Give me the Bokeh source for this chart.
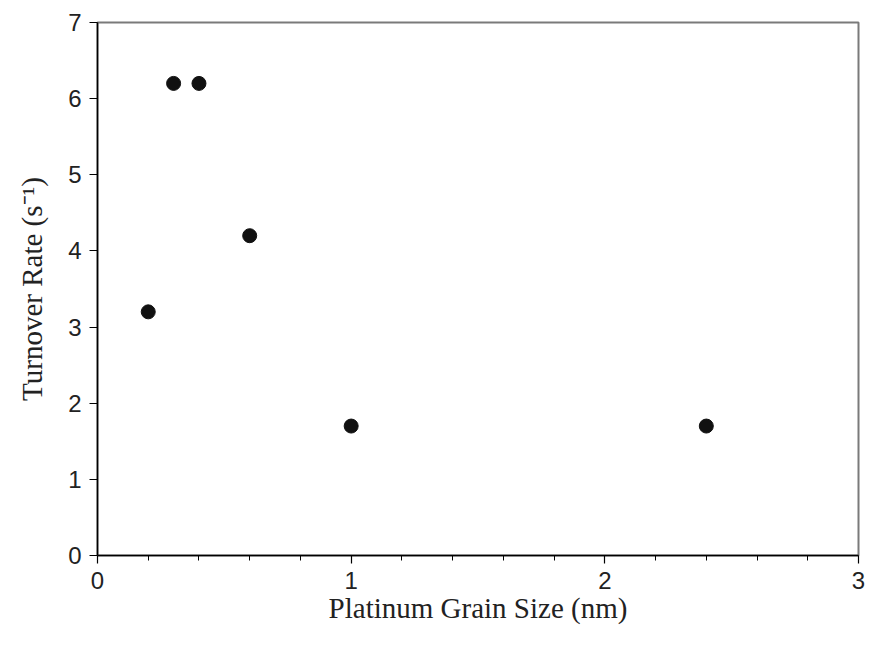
from bokeh.plotting import figure
from bokeh.models import Range1d, FixedTicker, ColumnDataSource
from bokeh.embed import file_html
from bokeh.resources import INLINE

# Turnover rate against platinum grain size
grain_size_nm = [0.2, 0.3, 0.4, 0.6, 1.0, 2.4]
turnover_rate = [3.2, 6.2, 6.2, 4.2, 1.7, 1.7]

x_ticks = [0, 1, 2, 3]
x_minor_ticks = [0.2, 0.4, 0.6, 0.8, 1.2, 1.4, 1.6, 1.8, 2.2, 2.4, 2.6, 2.8]
y_ticks = [0, 1, 2, 3, 4, 5, 6, 7]

src = ColumnDataSource(data=dict(x=grain_size_nm, y=turnover_rate))

p = figure(width=870, height=646, output_backend="svg", toolbar_location=None,
           x_range=Range1d(0, 3), y_range=Range1d(0, 7),
           min_border_left=97, min_border_right=12,
           min_border_top=22, min_border_bottom=91)

p.grid.visible = False
p.background_fill_color = "white"
p.border_fill_color = "white"
p.outline_line_color = "#7a7a7a"
p.outline_line_width = 2

p.scatter("x", "y", source=src, size=14, marker="circle",
          fill_color="#111111", line_color="#111111")

p.axis.axis_line_color = "black"
p.axis.axis_line_width = 1.5
p.axis.major_tick_line_color = "black"
p.axis.major_tick_line_width = 1.2
p.axis.major_tick_in = 0
p.axis.major_tick_out = 8
p.axis.major_label_text_font = "Liberation Sans"
p.axis.major_label_text_font_size = "24px"
p.axis.major_label_text_color = "#222222"
p.axis.axis_label_text_font = "Liberation Serif"
p.axis.axis_label_text_font_size = "29px"
p.axis.axis_label_text_font_style = "normal"
p.axis.axis_label_text_color = "#222222"

p.xaxis.ticker = FixedTicker(ticks=x_ticks, minor_ticks=x_minor_ticks)
p.xaxis.minor_tick_line_color = "black"
p.xaxis.minor_tick_line_width = 1.0
p.xaxis.minor_tick_in = 0
p.xaxis.minor_tick_out = 5
p.xaxis.major_label_standoff = 8
p.xaxis.axis_label = "Platinum Grain Size (nm)"
p.xaxis.axis_label_standoff = 0

p.yaxis.ticker = FixedTicker(ticks=y_ticks)
p.yaxis.minor_tick_line_color = None
p.yaxis.major_label_standoff = 8
p.yaxis.axis_label = "Turnover Rate (s\u207b\u00b9)"
p.yaxis.axis_label_standoff = 17

open("out.html", "w").write(file_html(p, INLINE))
